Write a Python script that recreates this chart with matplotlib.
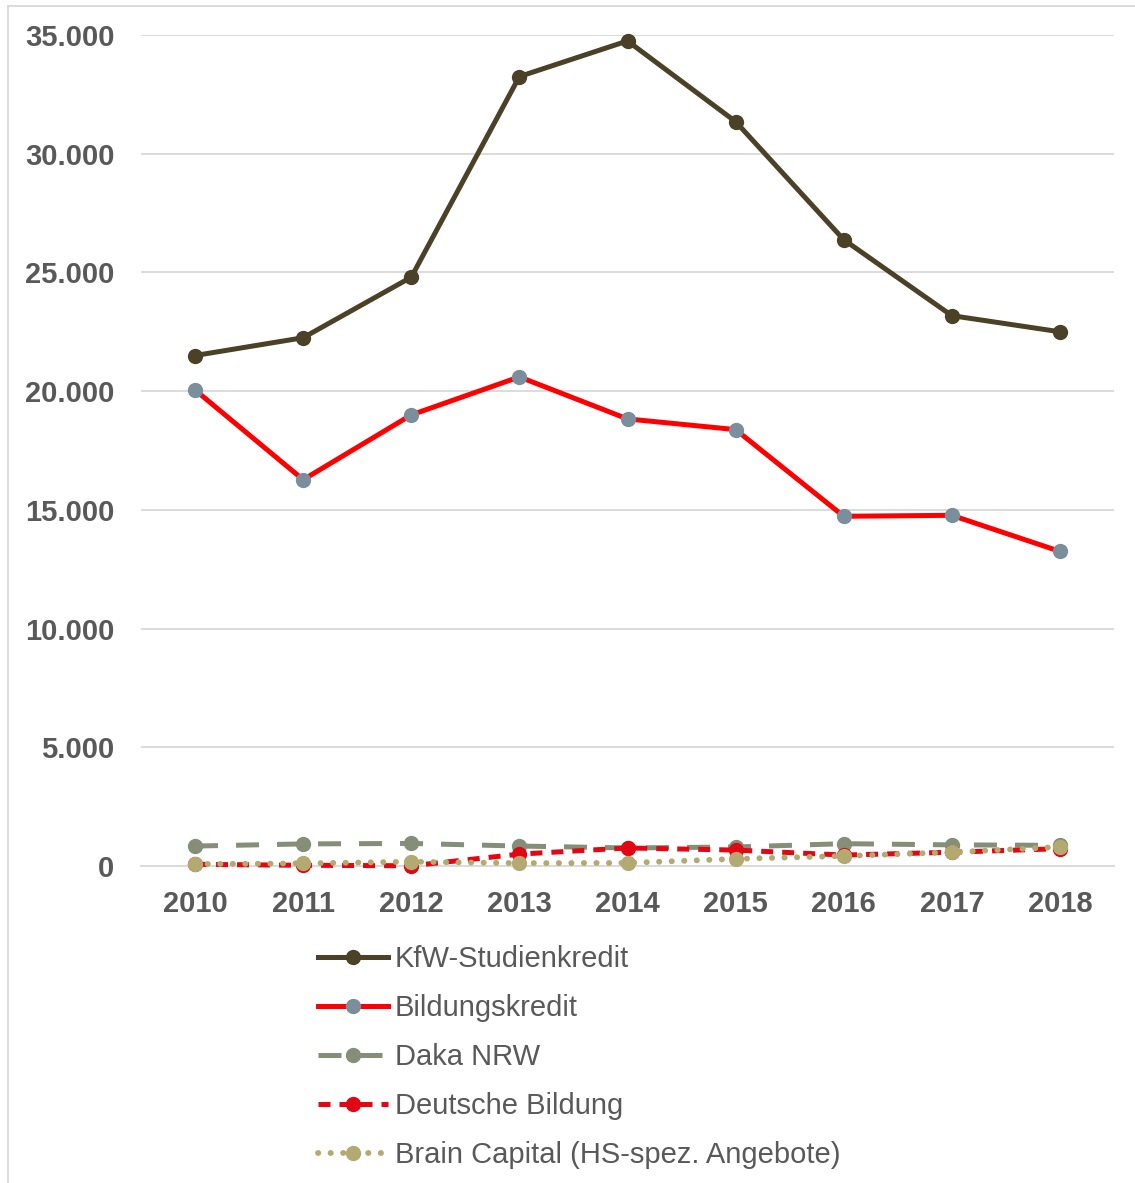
import matplotlib
matplotlib.use('Agg')
import matplotlib.pyplot as plt
from matplotlib.lines import Line2D
from matplotlib.ticker import FuncFormatter

plt.rcParams['font.family'] = ['Liberation Sans', 'DejaVu Sans']

years = ['2010', '2011', '2012', '2013', '2014', '2015', '2016', '2017', '2018']
kfw = [21500, 22250, 24800, 33250, 34750, 31350, 26380, 23180, 22500]
bildungskredit = [20050, 16270, 19000, 20600, 18830, 18380, 14730, 14770, 13250]
daka_nrw = [840, 930, 950, 840, 760, 800, 940, 890, 870]
deutsche_bildung = [70, 30, 10, 500, 760, 670, 460, 580, 730]
brain_capital = [80, 110, 180, 120, 130, 300, 420, 580, 800]

txt = '#595959'
fig = plt.figure(figsize=(11.35, 11.83), dpi=100)
ax = fig.add_axes([141/1135, 1 - 866/1183, (1114 - 141)/1135, (866 - 35)/1183])

x = range(len(years))
ax.plot(x, kfw, color='#4A4127', lw=3.6, marker='o', ms=10,
        label='KfW-Studienkredit', clip_on=False, zorder=5)
ax.plot(x, bildungskredit, color='#FF0000', lw=3.6, marker='o', ms=10,
        mfc='#7A8E9C', mec='#7A8E9C', label='Bildungskredit', clip_on=False, zorder=5)
ax.plot(x, daka_nrw, color='#858F78', lw=3.6, marker='o', ms=10,
        dashes=(4.6, 3.6), label='Daka NRW', clip_on=False, zorder=4)
ax.plot(x, deutsche_bildung, color='#E30613', lw=3.6, marker='o', ms=10,
        dashes=(2.4, 1.8), label='Deutsche Bildung', clip_on=False, zorder=5)
ax.plot(x, brain_capital, color='#B3AA72', lw=4.2, marker='o', ms=10,
        dashes=(0.05, 2.1), dash_capstyle='round',
        label='Brain Capital (HS-spez. Angebote)', clip_on=False, zorder=6)

ax.set_xlim(-0.5, len(years) - 0.5)
ax.set_ylim(0, 35000)
ax.set_yticks(range(0, 35001, 5000))
ax.yaxis.set_major_formatter(FuncFormatter(lambda v, p: '{:,.0f}'.format(v).replace(',', '.')))
ax.set_xticks(list(x))
ax.set_xticklabels(years)
ax.grid(axis='y', color='#D9D9D9', lw=1.3)
ax.set_axisbelow(True)
for s in ['top', 'right', 'left']:
    ax.spines[s].set_visible(False)
ax.spines['bottom'].set_color('#D9D9D9')
ax.spines['bottom'].set_linewidth(1.3)
ax.tick_params(axis='both', length=0, labelsize=21, labelcolor=txt)
ax.tick_params(axis='x', pad=17)
ax.tick_params(axis='y', pad=19)
for lab in ax.get_xticklabels() + ax.get_yticklabels():
    lab.set_fontweight('bold')

leg = fig.legend(loc='upper left', bbox_to_anchor=(318/1135, 1 - 945/1183),
                 frameon=False, fontsize=21, handlelength=2.4, handletextpad=0.24,
                 labelspacing=0.72, borderaxespad=0, borderpad=0)
for t in leg.get_texts():
    t.set_color(txt)

# outer frame (top and left edges visible)
fig.add_artist(Line2D([8/1135, 1], [1 - 6/1183, 1 - 6/1183], color='#D9D9D9', lw=1.3))
fig.add_artist(Line2D([8/1135, 8/1135], [0, 1 - 6/1183], color='#D9D9D9', lw=1.3))

fig.savefig('out.png', dpi=100)
